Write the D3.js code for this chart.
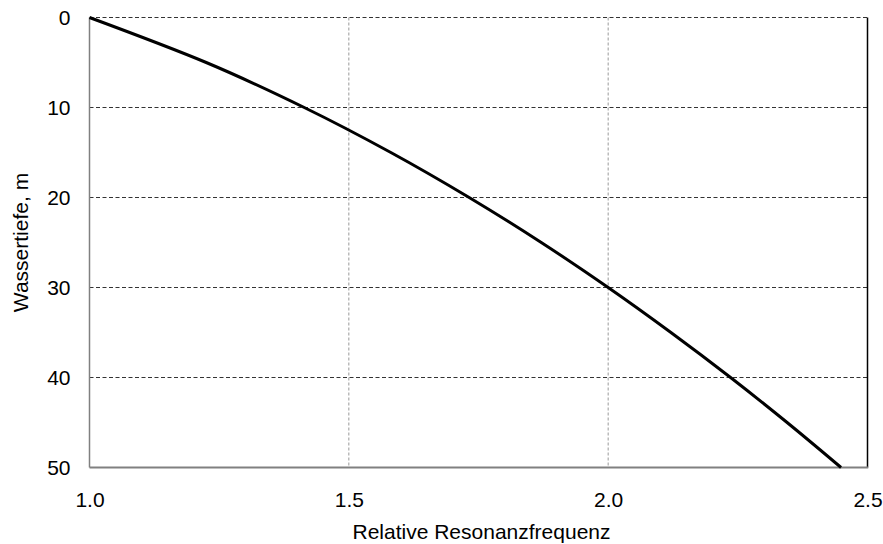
<!DOCTYPE html>
<html>
<head>
<meta charset="utf-8">
<script src="https://cdn.jsdelivr.net/npm/d3@7"></script>
<style>
  html, body { margin: 0; padding: 0; background: #fff; }
  svg { display: block; font-family: "Liberation Sans", Arial, sans-serif; }
</style>
</head>
<body>
<svg id="chart" width="883" height="544"></svg>
<script>
// Relative resonance frequency versus water depth
const depths = [0, 5, 10, 15, 20, 25, 30, 35, 40, 45, 50];
const frequencies = [1.0, 1.225, 1.414, 1.581, 1.732, 1.871, 2.0, 2.121, 2.236, 2.345, 2.449];
const xTicks = [1.0, 1.5, 2.0, 2.5];
const yTicks = [0, 10, 20, 30, 40, 50];

const svg = d3.select("#chart");
const plotLeft = 89.5, plotRight = 867.5, plotTop = 17.5, plotBottom = 467.5;
const fontSize = 21;

const x = d3.scaleLinear().domain([1.0, 2.5]).range([plotLeft, plotRight]);
const y = d3.scaleLinear().domain([0, 50]).range([plotTop, plotBottom]);

// horizontal grid (black dashed)
svg.append("g").selectAll("line")
  .data(yTicks.filter(t => t < 50))
  .join("line")
  .attr("x1", plotLeft).attr("x2", plotRight)
  .attr("y1", d => y(d)).attr("y2", d => y(d))
  .attr("stroke", "#333").attr("stroke-width", 1)
  .attr("stroke-dasharray", "4,2.5");

// vertical grid (gray dashed)
svg.append("g").selectAll("line")
  .data(xTicks.filter(t => t > 1.0 && t < 2.5))
  .join("line")
  .attr("x1", d => x(d)).attr("x2", d => x(d))
  .attr("y1", plotTop).attr("y2", plotBottom)
  .attr("stroke", "#999").attr("stroke-width", 1)
  .attr("stroke-dasharray", "3,2");

// frame: gray left/bottom axes, black right edge
svg.append("line").attr("x1", plotRight).attr("x2", plotRight).attr("y1", plotTop).attr("y2", plotBottom)
  .attr("stroke", "#000").attr("stroke-width", 1.5);
svg.append("line").attr("x1", plotLeft).attr("x2", plotLeft).attr("y1", plotTop).attr("y2", plotBottom)
  .attr("stroke", "#808080").attr("stroke-width", 1.5);
svg.append("line").attr("x1", plotLeft).attr("x2", plotRight + 0.75).attr("y1", plotBottom).attr("y2", plotBottom)
  .attr("stroke", "#808080").attr("stroke-width", 2);

// tick labels via d3 axes, with tick marks hidden
const xAxis = svg.append("g")
  .attr("transform", `translate(0,${plotBottom})`)
  .call(d3.axisBottom(x).tickValues(xTicks).tickFormat(d3.format(".1f")).tickSize(0).tickPadding(25));
xAxis.select(".domain").remove();
xAxis.selectAll("text").attr("font-size", fontSize).attr("fill", "#000")
  .attr("font-family", "Liberation Sans, Arial, sans-serif");

const yAxis = svg.append("g")
  .attr("transform", `translate(${plotLeft},0)`)
  .call(d3.axisLeft(y).tickValues(yTicks).tickFormat(d3.format("d")).tickSize(0).tickPadding(19));
yAxis.select(".domain").remove();
yAxis.selectAll("text").attr("font-size", fontSize).attr("fill", "#000")
  .attr("font-family", "Liberation Sans, Arial, sans-serif");

// curve
const line = d3.line()
  .x((d, i) => x(frequencies[i]))
  .y(d => y(d))
  .curve(d3.curveMonotoneY);
svg.append("path")
  .datum(depths)
  .attr("d", line)
  .attr("fill", "none")
  .attr("stroke", "#000")
  .attr("stroke-width", 3);

// titles
svg.append("text")
  .attr("x", 481.5).attr("y", 539)
  .attr("text-anchor", "middle").attr("font-size", fontSize)
  .text("Relative Resonanzfrequenz");

svg.append("text")
  .attr("transform", `translate(28,${(plotTop + plotBottom) / 2}) rotate(-90)`)
  .attr("text-anchor", "middle").attr("font-size", fontSize)
  .text("Wassertiefe, m");
</script>
</body>
</html>
